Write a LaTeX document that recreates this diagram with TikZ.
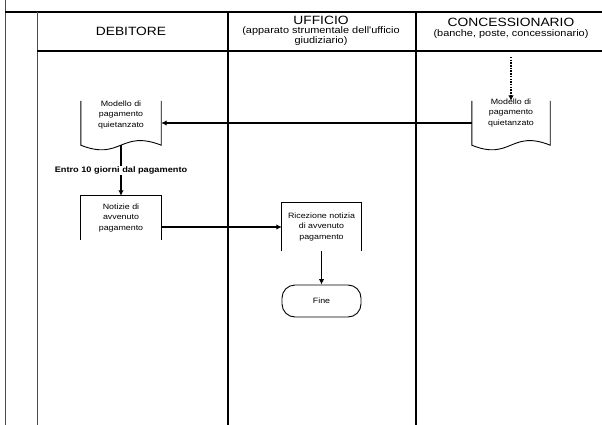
\documentclass[tikz,border=0pt]{standalone}
\usepackage{fontspec}
\setmainfont{Liberation Sans}
\newfontfamily\wf[FakeStretch=1.15]{Liberation Sans}
\usetikzlibrary{arrows.meta,calc}
\begin{document}
\begin{tikzpicture}[x=1pt,y=-1pt,
  lanethick/.style={line width=1.7pt},
  lanethin/.style={line width=0.6pt, black!70},
  hdr/.style={font=\wf\fontsize{12}{12}\selectfont, inner sep=0pt},
  sub/.style={font=\wf\fontsize{9.5}{10}\selectfont, align=center, inner sep=0pt},
  txt/.style={font=\wf\fontsize{7.7}{10.5}\selectfont, align=center, inner sep=0pt},
  shapebox/.style={inner sep=0pt, minimum width=80pt},
  border/.style={line width=0.9pt},
  flow/.style={line width=1.5pt, -{Latex[length=5.5pt,width=5.5pt]}},
  ]
\useasboundingbox (0,0) rectangle (602,425);
% swimlane frame
\coordinate (f1) at (5,0);   \coordinate (f2) at (5,425);
\coordinate (t1) at (5,12);  \coordinate (t2) at (602,12);
\coordinate (l0a) at (37,12);  \coordinate (l0b) at (37,425);
\coordinate (h1) at (37,51);   \coordinate (h2) at (602,51);
\coordinate (l1a) at (228,12); \coordinate (l1b) at (228,425);
\coordinate (l2a) at (416,12); \coordinate (l2b) at (416,425);
\draw[lanethin] (f1) -- (f2);
\draw[lanethick] (t1) -- (t2);
\draw[lanethin] (l0a) -- (l0b);
\draw[lanethick] (h1) -- (h2);
\draw[lanethick] (l1a) -- (l1b);
\draw[lanethick] (l2a) -- (l2b);
% headers
\node[hdr] (hdeb) at (131,31) {DEBITORE};
\node[hdr] (huff) at (321,20) {UFFICIO};
\node[sub] (huffs) at (321,36) {(apparato strumentale dell'ufficio\\giudiziario)};
\node[hdr] (hcon) at (511,22) {CONCESSIONARIO};
\node[sub] (hcons) at (511,34) {(banche, poste, concessionario)};
% document 1 (debitore)
\node[shapebox, minimum height=44pt] (doc1) at (121,123) {};
\node[txt] (doc1t) at (121,115) {Modello di\\pagamento\\quietanzato};
\draw[border] (doc1.north west) -- (doc1.south west)
  .. controls ($(doc1.south west)+(40,16)$) and ($(doc1.south west)+(40,-16)$) .. (doc1.south east)
  -- (doc1.north east);
% document 2 (concessionario)
\node[shapebox, minimum width=78pt, minimum height=44pt] (doc3) at (511,123) {};
\node[txt] (doc3t) at (511,113) {Modello di\\pagamento\\quietanzato};
\draw[border] (doc3.north west) -- (doc3.south west)
  .. controls ($(doc3.south west)+(39,16)$) and ($(doc3.south west)+(39,-16)$) .. (doc3.south east)
  -- (doc3.north east);
% notizie box
\node[shapebox, minimum height=44pt] (notz) at (121,218) {};
\node[txt] (notzt) at (121,218) {Notizie di\\avvenuto\\pagamento};
\draw[border] (notz.south west) -- (notz.north west) -- (notz.north east) -- (notz.south east);
% ricezione box
\node[shapebox, minimum width=79pt, minimum height=48pt] (ricz) at (321.5,227) {};
\node[txt] (riczt) at (321.5,227) {Ricezione notizia\\di avvenuto\\pagamento};
\draw[border] (ricz.south west) -- (ricz.north west) -- (ricz.north east) -- (ricz.south east);
% fine terminal
\node[txt, draw, line width=0.9pt, minimum width=79pt, minimum height=32pt, rounded corners=13pt] (fine) at (321.5,301) {Fine};
% connectors
\coordinate (cstart) at (511,57);
\draw[flow, dash pattern=on 1.5pt off 1.2pt] (cstart) -- (doc3.north);
\draw[flow] (doc3.west) -- (doc1.east);
\draw[flow] (doc1.south) -- node[txt, fill=white, inner sep=1pt, font=\wf\bfseries\fontsize{8}{9}\selectfont] (lbl) {Entro 10 giorni dal pagamento} (notz.north);
\draw[flow] (notz.east |- ricz.west) -- (ricz.west);
\draw[flow] (ricz.south) -- (fine.north);
\end{tikzpicture}
\end{document}
